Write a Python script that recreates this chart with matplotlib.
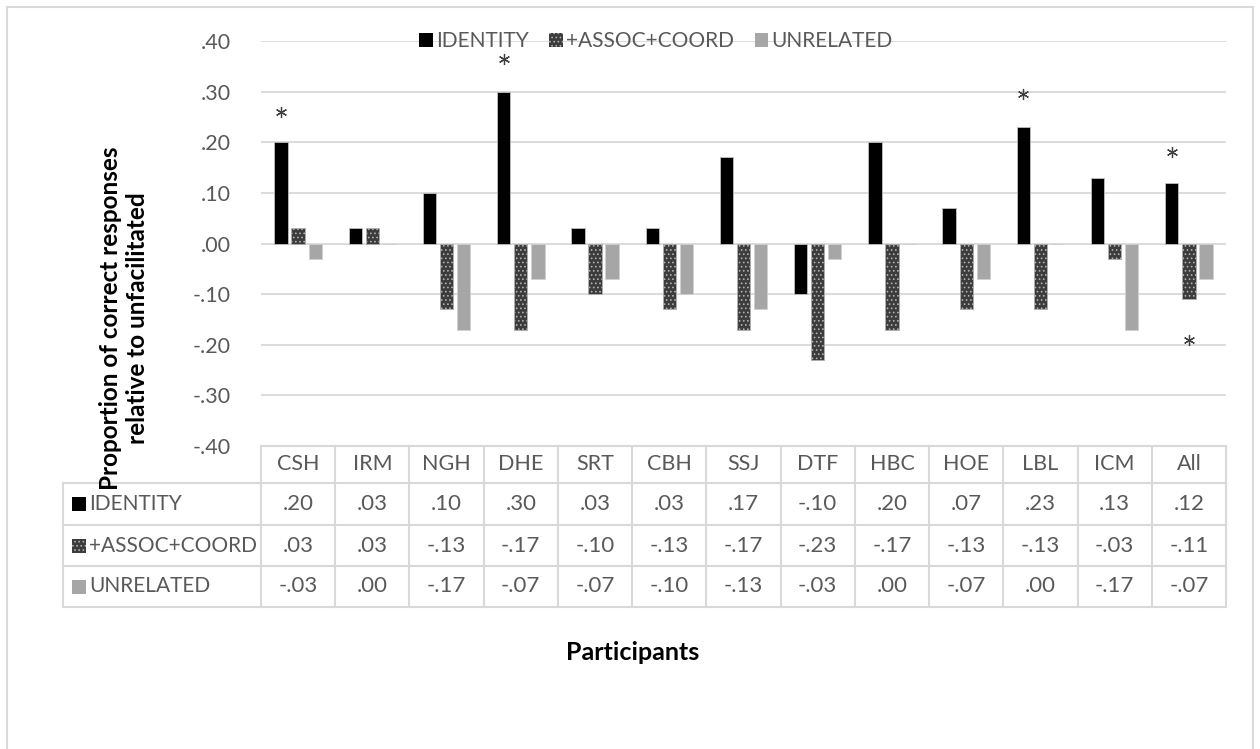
import matplotlib
matplotlib.use("Agg")
import matplotlib.pyplot as plt
import matplotlib.transforms as mtransforms
from matplotlib.patches import Patch, Rectangle
from matplotlib.lines import Line2D
import numpy as np

plt.rcParams['font.family'] = ['Lato', 'DejaVu Sans']
plt.rcParams['hatch.linewidth'] = 0.7

participants = ["CSH", "IRM", "NGH", "DHE", "SRT", "CBH", "SSJ", "DTF", "HBC", "HOE", "LBL", "ICM", "All"]
series_names = ["IDENTITY", "+ASSOC+COORD", "UNRELATED"]
identity = [.20, .03, .10, .30, .03, .03, .17, -.10, .20, .07, .23, .13, .12]
assoc_coord = [.03, .03, -.13, -.17, -.10, -.13, -.17, -.23, -.17, -.13, -.13, -.03, -.11]
unrelated = [-.03, .00, -.17, -.07, -.07, -.10, -.13, -.03, .00, -.07, .00, -.17, -.07]
y_ticks = [-.40, -.30, -.20, -.10, .00, .10, .20, .30, .40]

# significance asterisks: participant, series index, height
star_participant = ["CSH", "DHE", "LBL", "All", "All"]
star_series = [0, 0, 0, 0, 1]
star_height = [.26, .365, .295, .18, -.19]

W, H = 1260, 749
GRID = "#d9d9d9"
TXT = "#595959"


def fy(py):
    return 1 - py / H


def fx(px):
    return px / W


def fmt(v):
    s = f"{v:.2f}"
    return s.replace("0.", ".", 1)


fig = plt.figure(figsize=(W / 100, H / 100), dpi=100)
ax = fig.add_axes([fx(261), fy(446), fx(1226) - fx(261), fy(41) - fy(446)])

series = [identity, assoc_coord, unrelated]
styles = [
    dict(color="black", edgecolor="#bfbfbf", linewidth=0.6),
    dict(facecolor="#3c3c3c", edgecolor="#b0b0b0", hatch="....", linewidth=0.6),
    dict(color="#a6a6a6", edgecolor="#d0d0d0", linewidth=0.6),
]
offsets = [-0.23, 0.0, 0.23]
bar_w = 0.18
x = np.arange(len(participants))
for vals, st, off, name in zip(series, styles, offsets, series_names):
    ax.bar(x + off, vals, width=bar_w, label=name, zorder=3, **st)

# asterisks
for p, s, h in zip(star_participant, star_series, star_height):
    ax.plot(participants.index(p) + offsets[s], h, marker=(6, 2, 0), ms=8,
            mew=0.9, color="#404040", zorder=4)

ax.set_xlim(-0.5, len(participants) - 0.5)
ax.set_ylim(-0.40, 0.40)
ax.set_yticks(y_ticks)
ax.set_yticklabels([fmt(v) for v in y_ticks], fontsize=15.5, color=TXT)
ax.tick_params(axis="y", length=0, pad=22)
ax.set_xticks([])
ax.grid(axis="y", color=GRID, linewidth=1.3, zorder=0)
for sp in ax.spines.values():
    sp.set_visible(False)

# legend at top
handles = [Patch(**{k: v for k, v in st.items() if k != "linewidth"}, linewidth=0) for st in styles]
leg = fig.legend(handles, series_names, loc="center", bbox_to_anchor=(fx(656), fy(41)),
                 ncol=3, frameon=False, fontsize=15, handlelength=0.65, handleheight=0.65,
                 handletextpad=0.15, columnspacing=1.0, labelcolor=TXT)

# data table under the plot
bt = mtransforms.blended_transform_factory(ax.transData, fig.transFigure)
row_y = [446, 483, 525, 566, 607]
edges = np.arange(len(participants) + 1) - 0.5
lkw = dict(color=GRID, linewidth=1.5, clip_on=False)

for yy in row_y:
    x0 = 261 if yy == 446 else 63
    fig.add_artist(Line2D([fx(x0), fx(1226)], [fy(yy), fy(yy)], transform=fig.transFigure, **lkw))
for e in edges:
    fig.add_artist(Line2D([e, e], [fy(446), fy(607)], transform=bt, **lkw))
fig.add_artist(Line2D([fx(63), fx(63)], [fy(483), fy(607)], transform=fig.transFigure, **lkw))

for i, p in enumerate(participants):
    fig.text(i, fy((446 + 483) / 2), p, transform=bt, ha="center", va="center", fontsize=15.5, color=TXT)
for r, (vals, name, h) in enumerate(zip(series, series_names, handles)):
    yc = (row_y[r + 1] + row_y[r + 2]) / 2
    for i, v in enumerate(vals):
        fig.text(i, fy(yc), fmt(v), transform=bt, ha="center", va="center", fontsize=16, color=TXT)
    sq = Rectangle((fx(72), fy(yc + 7)), fx(14), fy(0) - fy(14), transform=fig.transFigure,
                   facecolor=h.get_facecolor(), edgecolor=h.get_edgecolor(), hatch=h.get_hatch(),
                   linewidth=0)
    fig.add_artist(sq)
    fig.text(fx(89), fy(yc), name, ha="left", va="center", fontsize=15, color=TXT)

# axis titles
fig.text(fx(124), fy(318), "Proportion of correct responses\nrelative to unfacilitated",
         rotation=90, ha="center", va="center", multialignment="center",
         fontsize=17.5, fontweight="bold", linespacing=1.25)
fig.text(fx(633), fy(653), "Participants", ha="center", va="center", fontsize=18, fontweight="bold")

# chart area border
fig.add_artist(Rectangle((fx(7), fy(760)), fx(1253) - fx(7), fy(7) - fy(760),
                         transform=fig.transFigure, fill=False, edgecolor=GRID, linewidth=1.5))

fig.savefig("out.png", dpi=100)
